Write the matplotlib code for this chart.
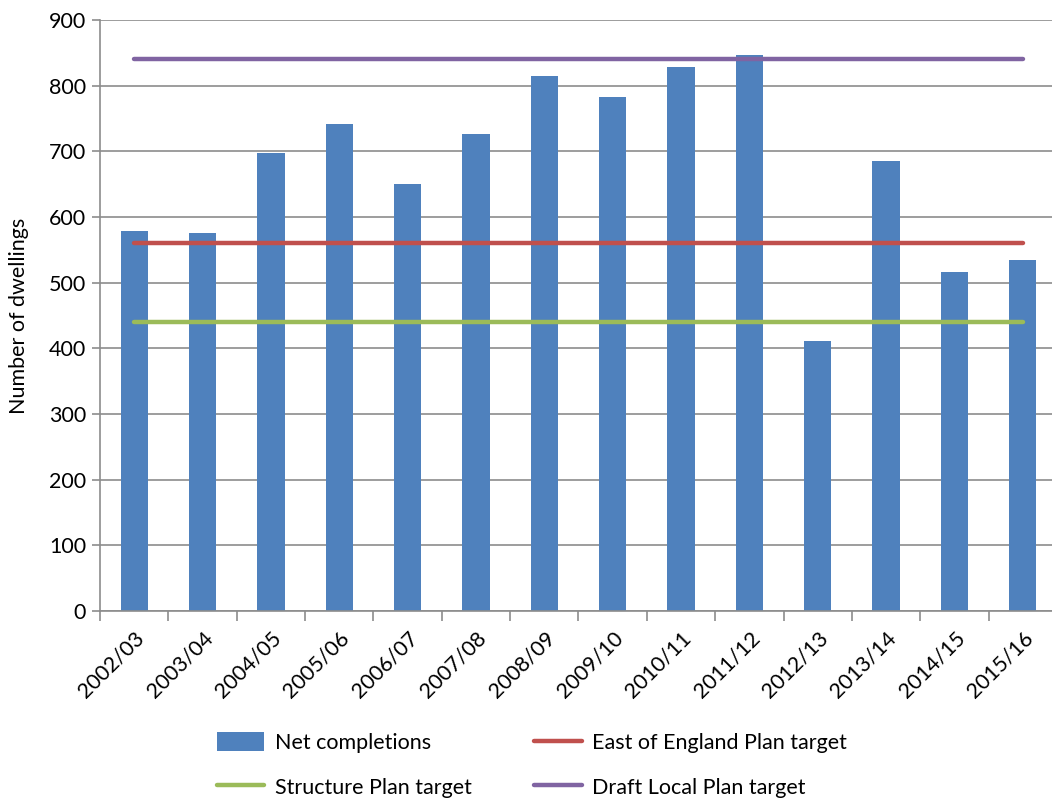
import matplotlib.pyplot as plt
import numpy as np

plt.rcParams['font.family'] = ['Lato', 'DejaVu Sans']

years = ["2002/03", "2003/04", "2004/05", "2005/06", "2006/07", "2007/08",
         "2008/09", "2009/10", "2010/11", "2011/12", "2012/13", "2013/14",
         "2014/15", "2015/16"]
net_completions = [578, 576, 697, 741, 651, 727, 815, 783, 828, 846, 411, 685, 516, 534]
east_of_england_target = [560] * len(years)
structure_plan_target = [440] * len(years)
draft_local_plan_target = [840] * len(years)

grid_col = "#8c8c8c"
fs = 15.5

fig = plt.figure(figsize=(10.52, 7.98), dpi=100)
ax = fig.add_axes([100 / 1052, 1 - 611 / 798, 957 / 1052, 591 / 798])

x = np.arange(len(years))
bars = ax.bar(x, net_completions, width=0.4, color="#4F81BD", zorder=2,
              label="Net completions")
l_east, = ax.plot(x, east_of_england_target, color="#C0504D", lw=3.2,
                  solid_capstyle="round", zorder=3, label="East of England Plan target")
l_struct, = ax.plot(x, structure_plan_target, color="#9BBB59", lw=3.2,
                    solid_capstyle="round", zorder=3, label="Structure Plan target")
l_draft, = ax.plot(x, draft_local_plan_target, color="#8064A2", lw=3.2,
                   solid_capstyle="round", zorder=3, label="Draft Local Plan target")

ax.set_xlim(-0.5, len(years) - 0.5)
ax.set_ylim(0, 900)
ax.set_yticks(range(0, 901, 100))
ax.yaxis.grid(True, color=grid_col, lw=1.2, zorder=0)
ax.set_axisbelow(True)

# category labels centred on bars, tick marks on the boundaries
ax.set_xticks(x)
ax.set_xticklabels(years, rotation=45, ha="right", rotation_mode="anchor", fontsize=fs)
ax.set_xticks(np.arange(-0.5, len(years)), minor=True)
ax.tick_params(axis="x", which="major", length=0, pad=12)
ax.tick_params(axis="x", which="minor", length=7, color=grid_col, width=1.2)
ax.tick_params(axis="y", length=6, color=grid_col, width=1.2, labelsize=fs, pad=4)

for side in ("top", "right"):
    ax.spines[side].set_visible(False)
for side in ("left", "bottom"):
    ax.spines[side].set_color(grid_col)
    ax.spines[side].set_linewidth(1.2)

ax.set_ylabel("Number of dwellings", fontsize=fs, labelpad=14)

fig.legend(handles=[bars, l_struct, l_east, l_draft], ncol=2, frameon=False,
           loc="center", bbox_to_anchor=(532 / 1052, 1 - 765 / 798), fontsize=fs,
           handlelength=2.2, handleheight=1.0, columnspacing=2.9,
           labelspacing=1.1, handletextpad=0.5)

fig.savefig("out.png", dpi=100)
